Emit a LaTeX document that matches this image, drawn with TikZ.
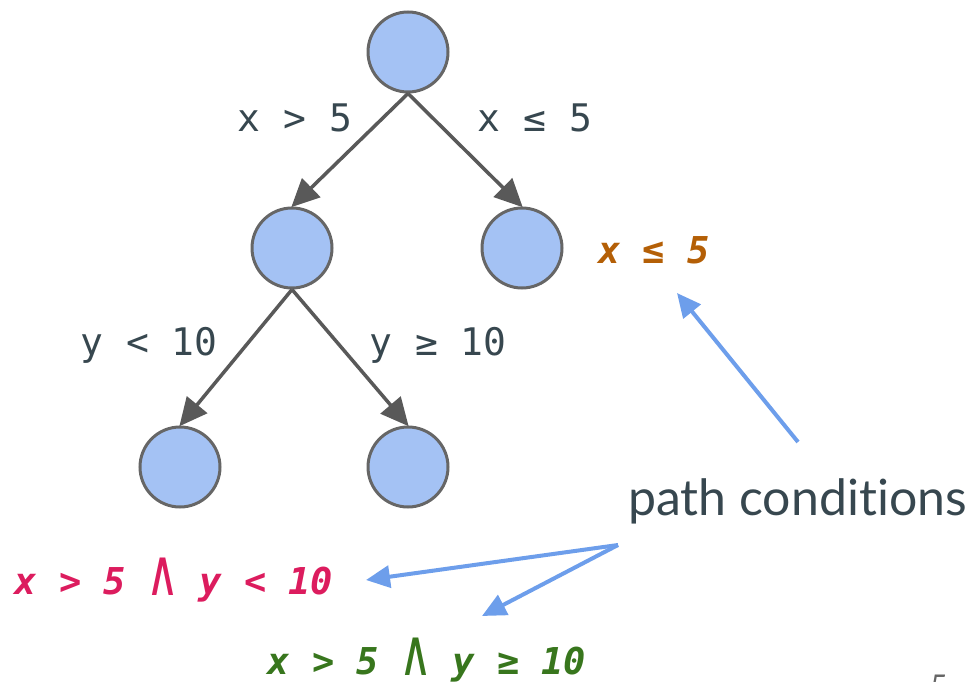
\documentclass[tikz,border=0pt]{standalone}
\usepackage{fontspec}
\setmainfont{Lato}[Ligatures=NoCommon]
\setmonofont{DejaVu Sans Mono}
\usetikzlibrary{arrows.meta}
\definecolor{nodefill}{HTML}{A4C2F4}
\definecolor{nodedraw}{HTML}{666666}
\definecolor{edgecol}{HTML}{595959}
\definecolor{labcol}{HTML}{37474F}
\definecolor{pccol}{HTML}{6D9EEB}
\definecolor{orangec}{HTML}{B45F06}
\definecolor{redc}{HTML}{DC1C5E}
\definecolor{greenc}{HTML}{38761D}
\newcommand{\tallwedge}{\raisebox{-1pt}{\scalebox{1.3}[1.75]{\mdseries ∧}}}
\begin{document}
\begin{tikzpicture}[x=1pt,y=-1pt,
  treenode/.style={circle,draw=nodedraw,fill=nodefill,line width=3pt,minimum size=80pt,inner sep=0pt},
  edge/.style={draw=edgecol,line width=3.5pt,-{Triangle[length=28pt,width=26pt]},shorten >=-1pt},
  pcarrow/.style={draw=pccol,line width=4pt,-{Triangle[length=24pt,width=22pt]}},
  cond/.style={font=\ttfamily\fontsize{38}{40}\selectfont,text=labcol,inner sep=0pt},
  pcond/.style={font=\ttfamily\bfseries\itshape\fontsize{37}{40}\selectfont,inner sep=0pt}]
\useasboundingbox (0,0) rectangle (978,682);
\node[treenode] (r) at (408,52) {};
\node[treenode] (a) at (292,248) {};
\node[treenode] (b) at (522,248) {};
\node[treenode] (c) at (180,467) {};
\node[treenode] (d) at (408,467) {};
\draw[edge] (r.south) -- (a.north);
\draw[edge] (r.south) -- (b.north);
\draw[edge] (a.south) -- (c.north);
\draw[edge] (a.south) -- (d.north);
\node[cond] (l1) at (295,118) {x > 5};
\node[cond] (l2) at (535,118) {x ≤ 5};
\node[cond] (l3) at (149,345) {y < 10};
\node[cond] (l4) at (438,345) {y ≥ 10};
\node[pcond,text=orangec] (p1) at (654,250) {x ≤ 5};
\node[pcond,text=redc] (p2) at (174,580) {x > 5 \tallwedge{} y < 10};
\node[pcond,text=greenc] (p3) at (427,660) {x > 5 \tallwedge{} y ≥ 10};
\node[font=\fontsize{50}{56}\selectfont,text=labcol,inner sep=0pt,anchor=base west] (pc) at (628,515) {path conditions};
\coordinate (s1) at (798,442);
\coordinate (t1) at (677,293);
\coordinate (s2) at (618,545);
\coordinate (t2) at (366,580);
\coordinate (t3) at (482,616);
\draw[pcarrow] (s1) -- (t1);
\draw[pcarrow] (s2) -- (t2);
\draw[pcarrow] (s2) -- (t3);
\node[font=\fontsize{30}{32}\selectfont,text=nodedraw,inner sep=0pt,anchor=north] (pg) at (939,675) {5};
\end{tikzpicture}
\end{document}
